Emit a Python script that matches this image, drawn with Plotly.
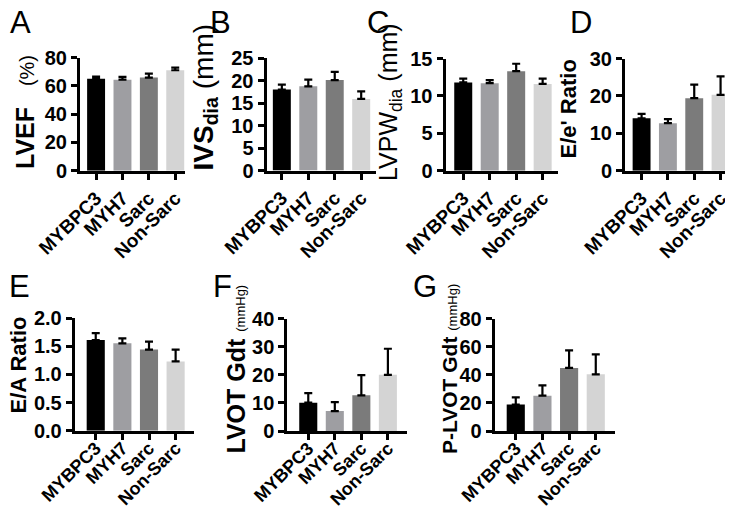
import plotly.graph_objects as go

W, H = 733, 507

categories = ["MYBPC3", "MYH7", "Sarc", "Non-Sarc"]
bar_colors = ["#000000", "#9e9ea2", "#7b7b7b", "#d4d4d4"]

lvef = [65.0, 64.3, 65.8, 71.0]
lvef_err = [1.5, 2.0, 2.8, 1.8]

ivs = [18.0, 18.7, 20.1, 15.9]
ivs_err = [1.1, 1.5, 1.8, 1.7]

lvpw = [11.8, 11.7, 13.3, 11.6]
lvpw_err = [0.5, 0.4, 1.0, 0.7]

ee_ratio = [14.0, 12.7, 19.4, 20.3]
ee_err = [1.2, 1.1, 3.6, 4.9]

ea_ratio = [1.61, 1.55, 1.44, 1.23]
ea_err = [0.12, 0.09, 0.14, 0.21]

lvot = [10.1, 7.1, 12.7, 20.0]
lvot_err = [3.4, 3.2, 7.2, 9.3]

plvot = [18.8, 25.2, 44.9, 40.4]
plvot_err = [5.2, 7.3, 12.6, 14.2]

panel_letters = ["A", "B", "C", "D", "E", "F", "G"]

FONT = "Liberation Sans, Arial, sans-serif"

# (values, errors, y range, dtick, tickformat, x px domain, y px domain, x range,
#  title, title size, title x center, title bottom px, letter pos, xtick size, xtick standoff)
panels = [
    (lvef, lvef_err, [0, 80], 20, "", (72, 177), (49.5, 162.7), [-0.61, 3.37],
     "<b>LVEF</b>   <span style='font-size:20px'>(%)</span>", 25, 17, 163, (12, 14), 19, 0),
    (ivs, ivs_err, [0, 25], 5, "", (258.5, 368), (50, 162.5), [-0.58, 3.56],
     "<b>IVS<sub>dia</sub></b> (mm)", 28, 197, 165, (212, 14), 19, 0),
    (lvpw, lvpw_err, [0, 15], 5, "", (437.5, 550), (50.5, 162.7), [-0.67, 3.58],
     "LVPW<sub>dia</sub> (mm)", 25, 382, 175, (370, 14), 19, 0),
    (ee_ratio, ee_err, [0, 30], 10, "", (617, 731), (50.5, 162.7), [-0.63, 3.7],
     "<b>E/e' Ratio</b>", 22, 560, 153, (573, 14), 19, 0),
    (ea_ratio, ea_err, [0, 2], 0.5, ".1f", (66.7, 186), (310, 422.7), [-0.79, 3.69],
     "<b>E/A Ratio</b>", 22, 10, 408, (11, 278), 18, -9),
    (lvot, lvot_err, [0, 40], 10, "", (279.3, 399), (310.7, 423), [-0.79, 3.72],
     "<b>LVOT Gdt</b> <span style='font-size:13px'>(mmHg)</span>", 25, 227, 448, (214, 278), 18, -9),
    (plvot, plvot_err, [0, 80], 20, "", (486.7, 606.7), (310.7, 423), [-0.79, 3.71],
     "<b>P-LVOT Gdt</b> <span style='font-size:13px'>(mmHg)</span>", 21, 441, 448, (417, 278), 18, -9),
]

fig = go.Figure()
layout = dict(
    width=W, height=H,
    margin=dict(l=0, r=0, t=0, b=0, autoexpand=False),
    paper_bgcolor="white", plot_bgcolor="white",
    showlegend=False,
    font=dict(family=FONT, color="black"),
)
annotations = []

for i, (vals, errs, yr, dt, tf, xd, yd, xr, title, tsize, tx, tb, lp, xfs, xso) in enumerate(panels):
    n = "" if i == 0 else str(i + 1)
    fig.add_trace(go.Bar(
        x=categories, y=vals,
        marker=dict(color=bar_colors, line=dict(width=0)),
        width=0.68,
        error_y=dict(type="data", symmetric=False, array=errs,
                     arrayminus=[0] * len(errs), color="black",
                     thickness=2.2, width=4),
        xaxis="x" + n, yaxis="y" + n,
        cliponaxis=False,
    ))
    layout["xaxis" + n] = dict(
        domain=[xd[0] / W, xd[1] / W], anchor="y" + n,
        type="category", range=xr, automargin=False,
        showline=True, linewidth=3, linecolor="black",
        ticks="outside", ticklen=6, tickwidth=2.5, tickcolor="black",
        tickangle=-45, tickfont=dict(family=FONT, size=xfs, color="black", weight="bold"),
        ticklabelstandoff=xso,
        showgrid=False, zeroline=False, fixedrange=True,
    )
    layout["yaxis" + n] = dict(
        domain=[1 - yd[1] / H, 1 - yd[0] / H], anchor="x" + n,
        range=yr, dtick=dt, tick0=0, tickformat=tf, automargin=False,
        showline=True, linewidth=3, linecolor="black",
        ticks="outside", ticklen=6, tickwidth=2.5, tickcolor="black",
        tickfont=dict(family=FONT, size=20, color="black", weight="bold"),
        ticklabelstandoff=0,
        showgrid=False, zeroline=False, fixedrange=True,
    )
    annotations.append(dict(
        text=title, textangle=-90, xref="paper", yref="paper",
        x=tx / W, y=1 - tb / H, xanchor="center", yanchor="bottom",
        showarrow=False, font=dict(family=FONT, size=tsize, color="black"),
    ))
    annotations.append(dict(
        text=panel_letters[i], xref="paper", yref="paper",
        x=lp[0] / W, y=1 - lp[1] / H, xanchor="center", yanchor="middle",
        showarrow=False, font=dict(family=FONT, size=31, color="black"),
    ))

layout["annotations"] = annotations
fig.update_layout(**layout)
fig.write_html("out.html")
